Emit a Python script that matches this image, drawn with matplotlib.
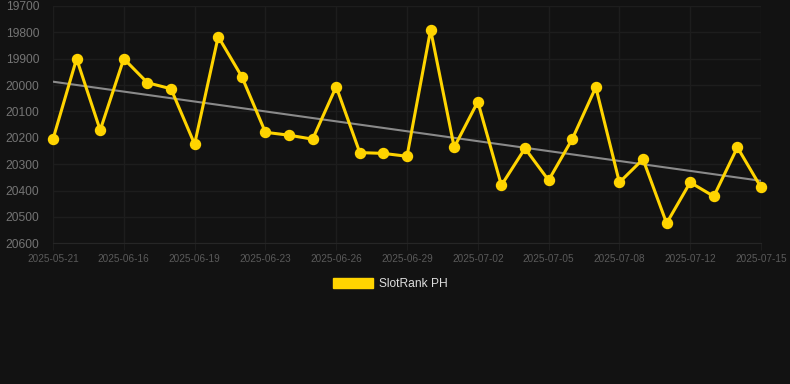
import numpy as np
import matplotlib
matplotlib.use("Agg")
import matplotlib.pyplot as plt
from matplotlib.patches import Patch

plt.rcParams['font.family'] = ['Liberation Sans', 'DejaVu Sans']

# rank values per day (lower is better, axis is reversed)
ranks = [20205, 19900, 20171, 19900, 19991, 20014, 20224, 19816, 19968, 20179,
         20190, 20205, 20006, 20256, 20259, 20270, 19790, 20236, 20063, 20380,
         20240, 20361, 20205, 20008, 20369, 20281, 20524, 20369, 20422, 20236,
         20388]
tick_labels = ['2025-05-21', '2025-06-16', '2025-06-19', '2025-06-23', '2025-06-26',
               '2025-06-29', '2025-07-02', '2025-07-05', '2025-07-08', '2025-07-12',
               '2025-07-15']
series_name = 'SlotRank PH'

bg = '#121212'
gold = '#FFD400'
grid_c = '#1d1d1d'

fig = plt.figure(figsize=(7.9, 3.84), dpi=100, facecolor=bg)
ax = fig.add_axes([53 / 790, 1 - 243.3 / 384, (761 - 53) / 790, (243.3 - 6) / 384])
ax.set_facecolor(bg)

x = np.arange(len(ranks))

# trend line (least squares)
k, b = np.polyfit(x, ranks, 1)
ax.plot(x, k * x + b, color='#8a8a8a', lw=1.5, zorder=2)

ax.plot(x, ranks, color=gold, lw=2.2, marker='o', markersize=7.2,
        clip_on=False, zorder=3)

ax.set_xlim(0, len(ranks) - 1)
ax.set_ylim(20600, 19700)
ax.set_yticks(np.arange(19700, 20601, 100))
ax.set_xticks(x[::3])
ax.set_xticklabels(tick_labels)

ax.grid(True, color=grid_c, lw=1)
ax.set_axisbelow(True)
for s in ax.spines.values():
    s.set_visible(False)
ax.spines['bottom'].set_visible(True)
ax.spines['bottom'].set_color('#262626')
ax.tick_params(axis='y', length=0, pad=10, labelsize=8.64, labelcolor='#747474')
ax.tick_params(axis='x', length=5, color=grid_c, pad=3, labelsize=7.2, labelcolor='#5a5a5a')

fig.legend(handles=[Patch(facecolor=gold, edgecolor=gold, label=series_name)],
           loc='center', bbox_to_anchor=(0.494, 1 - 284 / 384), frameon=False,
           fontsize=8.64, labelcolor='#dddddd', handlelength=3.3, handleheight=0.85,
           handletextpad=0.5)

fig.savefig('out.png', dpi=100, facecolor=bg)
